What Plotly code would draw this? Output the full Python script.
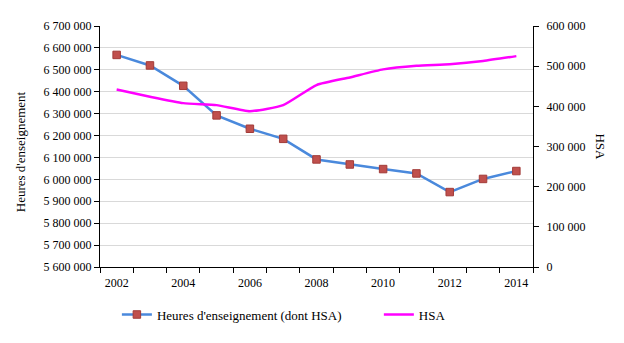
import plotly.graph_objects as go

years = [2002, 2003, 2004, 2005, 2006, 2007, 2008, 2009, 2010, 2011, 2012, 2013, 2014]
heures = [6568000, 6520000, 6427000, 6292000, 6231000, 6185000, 6091000, 6068000,
          6047000, 6027000, 5942000, 6002000, 6038000]
hsa = [442000, 424000, 408000, 403000, 388000, 403000, 453000, 472000,
       492000, 501000, 505000, 513000, 525000]
label_years = [2002, 2004, 2006, 2008, 2010, 2012, 2014]

FONT = "Liberation Serif, Times New Roman, serif"
TXT = "#000000"

fig = go.Figure()
fig.add_trace(go.Scatter(
    x=years, y=heures, name="Heures d'enseignement (dont HSA)",
    mode="lines+markers",
    line=dict(color="#4a89dc", width=2.5),
    marker=dict(symbol="square", size=7.5, color="#c0504d",
                line=dict(color="#a23b38", width=1)),
    yaxis="y", legend="legend"))
fig.add_trace(go.Scatter(
    x=years, y=hsa, name="HSA", mode="lines",
    line=dict(color="#ff00ff", width=2.5, shape="spline", smoothing=0.5),
    yaxis="y2", legend="legend2"))

leg_common = dict(orientation="h", xanchor="left", y=-0.135, yanchor="top",
                  itemwidth=30, bgcolor="rgba(0,0,0,0)",
                  font=dict(family=FONT, size=13, color=TXT))

fig.update_layout(
    width=624, height=343,
    margin=dict(l=100, r=91, t=26, b=76, autoexpand=False),
    paper_bgcolor="white", plot_bgcolor="white",
    separators=", ",
    font=dict(family=FONT, size=12, color=TXT),
    showlegend=True,
    legend=dict(x=0.039, **leg_common),
    legend2=dict(x=0.644, **leg_common),
    xaxis=dict(range=[2001.5, 2014.5], tickvals=label_years,
               ticktext=[str(y) for y in label_years], ticks="",
               ticklabelstandoff=5,
               showgrid=False, zeroline=False,
               showline=True, linecolor="#000000", linewidth=1,
               minor=dict(tick0=2001.5, dtick=1, ticks="outside", ticklen=5,
                          tickcolor="#000000", showgrid=False),
               tickfont=dict(family=FONT, size=12, color=TXT)),
    yaxis=dict(range=[5600000, 6700000], dtick=100000, tickformat=",d",
               ticks="outside", ticklen=5, tickcolor="#000000",
               showline=True, linecolor="#000000", linewidth=1,
               showgrid=True, gridcolor="#d9d9d9", gridwidth=1, zeroline=False,
               tickfont=dict(family=FONT, size=12, color=TXT)),
    yaxis2=dict(range=[0, 600000], dtick=100000, tickformat=",d",
                overlaying="y", side="right", anchor="x",
                ticks="outside", ticklen=5, tickcolor="#000000",
                ticklabelstandoff=5,
                showline=True, linecolor="#000000", linewidth=1,
                showgrid=False, zeroline=False,
                tickfont=dict(family=FONT, size=12, color=TXT)),
    annotations=[
        dict(text="Heures d'enseignement", xref="paper", yref="paper",
             x=-0.185, y=0.48, textangle=-90, showarrow=False,
             font=dict(family=FONT, size=13, color=TXT), xanchor="center", yanchor="middle"),
        dict(text="HSA", xref="paper", yref="paper",
             x=1.155, y=0.5, textangle=90, showarrow=False,
             font=dict(family=FONT, size=13, color=TXT), xanchor="center", yanchor="middle"),
    ],
)

fig.write_html("out.html")
